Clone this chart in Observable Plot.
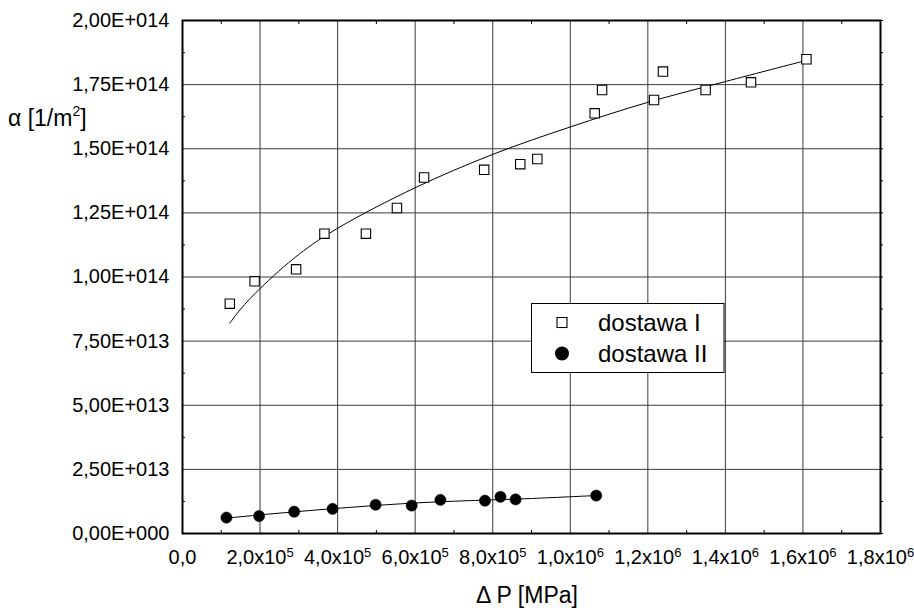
<!DOCTYPE html>
<html>
<head>
<meta charset="utf-8">
<script src="https://cdn.jsdelivr.net/npm/d3@7"></script>
<script src="https://cdn.jsdelivr.net/npm/@observablehq/plot@0.6"></script>
<style>
  html, body { margin: 0; padding: 0; background: white; }
  #chart { width: 914px; height: 608px; }
</style>
</head>
<body>
<div id="chart"></div>
<script>
// ---- data ----
const dostawaI_x = [1.22e5, 1.86e5, 2.93e5, 3.66e5, 4.73e5, 5.53e5, 6.23e5, 7.78e5, 8.71e5, 9.15e5, 1.063e6, 1.082e6, 1.216e6, 1.239e6, 1.349e6, 1.466e6, 1.609e6];
const dostawaI_y = [0.896e14, 0.983e14, 1.03e14, 1.169e14, 1.169e14, 1.269e14, 1.388e14, 1.418e14, 1.44e14, 1.46e14, 1.638e14, 1.729e14, 1.69e14, 1.801e14, 1.729e14, 1.759e14, 1.849e14];

const dostawaII_x = [1.134e5, 1.976e5, 2.88e5, 3.87e5, 4.98e5, 5.91e5, 6.65e5, 7.80e5, 8.20e5, 8.59e5, 1.067e6];
const dostawaII_y = [6.2e12, 6.8e12, 8.5e12, 9.6e12, 11.2e12, 10.9e12, 13.1e12, 12.8e12, 14.3e12, 13.3e12, 14.8e12];

// trend curves, points
const fitI_x = [1.22e5, 1.5e5, 2e5, 3e5, 4e5, 6e5, 8e5, 1.0e6, 1.2e6, 1.4e6, 1.61e6];
const fitI_y = [0.82e14, 0.875e14, 0.955e14, 1.088e14, 1.19e14, 1.348e14, 1.478e14, 1.585e14, 1.681e14, 1.762e14, 1.845e14];

const fitII_x = [1.134e5, 3e5, 6e5, 9e5, 1.067e6];
const fitII_y = [6.0e12, 8.6e12, 11.9e12, 13.65e12, 14.8e12];

const xTicks = [0, 2e5, 4e5, 6e5, 8e5, 1.0e6, 1.2e6, 1.4e6, 1.6e6, 1.8e6];
const xTickLabels = ["0,0", "2,0x10^5", "4,0x10^5", "6,0x10^5", "8,0x10^5", "1,0x10^6", "1,2x10^6", "1,4x10^6", "1,6x10^6", "1,8x10^6"];
const xMinor = [1e5, 3e5, 5e5, 7e5, 9e5, 1.1e6, 1.3e6, 1.5e6, 1.7e6];

const yTicks = [0, 2.5e13, 5e13, 7.5e13, 1e14, 1.25e14, 1.5e14, 1.75e14, 2e14];
const yTickLabels = ["0,00E+000", "2,50E+013", "5,00E+013", "7,50E+013", "1,00E+014", "1,25E+014", "1,50E+014", "1,75E+014", "2,00E+014"];
const yMinor = [1.25e13, 3.75e13, 6.25e13, 8.75e13, 1.125e14, 1.375e14, 1.625e14, 1.875e14];

const seriesNames = ["dostawa I", "dostawa II"];
const xTitle = "\u0394 P [MPa]";

const ptsI = dostawaI_x.map((x, i) => ({x, y: dostawaI_y[i]}));
const ptsII = dostawaII_x.map((x, i) => ({x, y: dostawaII_y[i]}));
const curveI = fitI_x.map((x, i) => ({x, y: fitI_y[i]}));
const curveII = fitII_x.map((x, i) => ({x, y: fitII_y[i]}));

const FONT = "'Liberation Sans', Arial, Helvetica, sans-serif";

const chart = Plot.plot({
  width: 914,
  height: 608,
  marginLeft: 182,
  marginRight: 34,
  marginTop: 20,
  marginBottom: 75,
  style: {fontFamily: FONT, fontSize: "20px", color: "black", background: "white"},
  x: {domain: [0, 1.8e6]},
  y: {domain: [0, 2e14]},
  marks: [
    Plot.gridX(xTicks.slice(1, -1), {stroke: "#3a3a3a", strokeOpacity: 1, strokeWidth: 1}),
    Plot.gridY(yTicks.slice(1, -1), {stroke: "#3a3a3a", strokeOpacity: 1, strokeWidth: 1}),
    // minor ticks, small, inward
    Plot.axisX(xMinor, {anchor: "bottom", tickSize: -3, tickFormat: () => "", label: null, strokeWidth: 1}),
    Plot.axisX(xMinor, {anchor: "top", tickSize: -3, tickFormat: () => "", label: null, strokeWidth: 1}),
    Plot.axisY(yMinor, {anchor: "left", tickSize: -3, tickFormat: () => "", label: null, strokeWidth: 1}),
    Plot.axisY(yMinor.concat(yTicks), {anchor: "right", tickSize: 2, tickFormat: () => "", label: null, strokeWidth: 1}),
    // labelled axes
    Plot.axisX(xTicks, {anchor: "bottom", tickSize: 0, tickPadding: 16, label: null,
      tickFormat: d => xTickLabels[xTicks.indexOf(d)]}),
    Plot.axisY(yTicks, {anchor: "left", tickSize: 0, tickPadding: 13, label: null,
      tickFormat: d => yTickLabels[yTicks.indexOf(d)]}),
    Plot.frame({stroke: "black", strokeWidth: 2}),
    Plot.line(curveI, {x: "x", y: "y", curve: "catmull-rom", stroke: "black", strokeWidth: 1}),
    Plot.line(curveII, {x: "x", y: "y", curve: "catmull-rom", stroke: "black", strokeWidth: 1}),
    Plot.dot(ptsI, {x: "x", y: "y", symbol: "square", r: 5.3, stroke: "black", fill: "white", strokeWidth: 1.1}),
    Plot.dot(ptsII, {x: "x", y: "y", symbol: "circle", r: 5.6, fill: "black", stroke: "black", strokeWidth: 0.5})
  ]
});

document.getElementById("chart").appendChild(chart);

const svg = d3.select(chart);
// superscripts in x tick labels
svg.selectAll("g[aria-label='x-axis tick label'] text").each(function () {
  const t = d3.select(this);
  const s = t.text();
  if (s.includes("^")) {
    const [base, exp] = s.split("^");
    t.text(null);
    t.append("tspan").text(base);
    t.append("tspan").attr("dy", "-0.55em").attr("font-size", "0.65em").text(exp);
  }
});

// y-axis title
const yt = svg.append("text")
  .attr("x", 8).attr("y", 126).attr("text-anchor", "start")
  .attr("font-family", FONT).attr("font-size", 23).attr("fill", "black");
yt.append("tspan").text("\u03b1 [1/m");
yt.append("tspan").attr("dy", -10).attr("font-size", 14).text("2");
yt.append("tspan").attr("dy", 10).text("]");

// x-axis title
svg.append("text")
  .attr("x", 527).attr("y", 603)
  .attr("text-anchor", "middle")
  .attr("font-family", FONT).attr("font-size", 23).attr("fill", "black")
  .text(xTitle);

// legend
const lg = svg.append("g").attr("font-family", FONT).attr("font-size", 24).attr("text-anchor", "start");
lg.append("rect").attr("x", 531.5).attr("y", 303.5).attr("width", 192.5).attr("height", 69)
  .attr("fill", "white").attr("stroke", "black").attr("stroke-width", 1);
lg.append("rect").attr("x", 557).attr("y", 317.5).attr("width", 10).attr("height", 10)
  .attr("fill", "white").attr("stroke", "black").attr("stroke-width", 1.1);
lg.append("circle").attr("cx", 562).attr("cy", 353.5).attr("r", 7).attr("fill", "black");
lg.append("text").attr("x", 598).attr("y", 331).text(seriesNames[0]);
lg.append("text").attr("x", 598).attr("y", 362).text(seriesNames[1]);
</script>
</body>
</html>
